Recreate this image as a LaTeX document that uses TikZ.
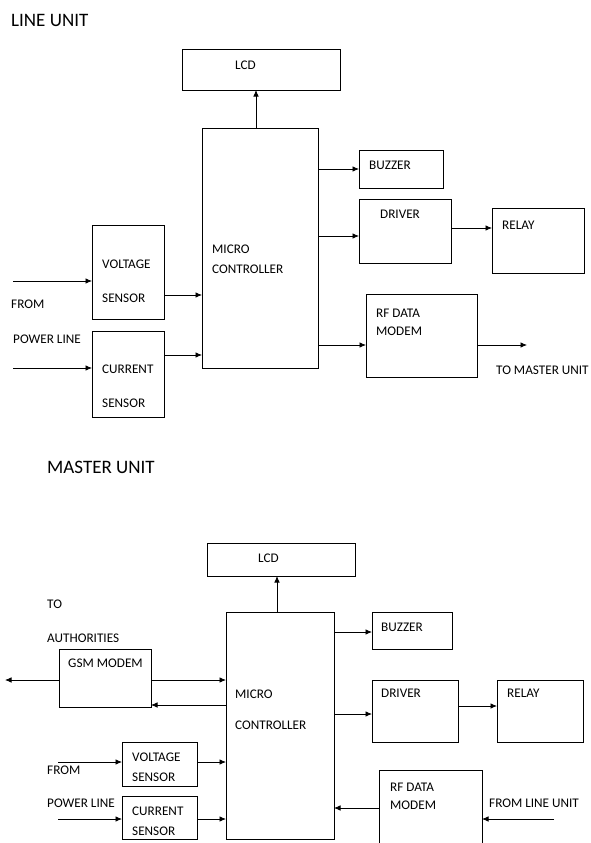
\documentclass[tikz,border=0pt]{standalone}
\usepackage{fontspec}
\setmainfont{Carlito}
\usetikzlibrary{arrows.meta}
\newcommand\mybox[5]{\node[box,minimum width=#4-#2,minimum height=#5-#3] (#1) at (#2,#3) {};}
\begin{document}
\begin{tikzpicture}[x=1pt,y=-1pt,
 box/.style={draw,line width=0.8pt,inner sep=0pt,outer sep=0pt,anchor=north west},
 lbl/.style={anchor=base west,inner sep=0pt,font=\fontsize{13.2}{15}\selectfont},
 ttl/.style={anchor=base west,inner sep=0pt,font=\fontsize{19}{22}\selectfont},
 arr/.style={-{Latex[length=6.5pt,width=5.5pt]},line width=0.8pt}]
\useasboundingbox[fill=white] (0,0) rectangle (590,843);
% ---------- LINE UNIT ----------
\node[ttl] (t1) at (11,27) {LINE UNIT};
\mybox{lcdA}{182}{49}{340}{90}
\mybox{mcA}{202}{128}{318}{368}
\mybox{buzA}{359}{150}{443}{188}
\mybox{drvA}{359}{199}{451}{263}
\mybox{relA}{492}{208}{584}{273}
\mybox{rfA}{366}{294}{477}{377}
\mybox{vsA}{92}{225}{164}{319}
\mybox{csA}{92}{331}{164}{417}
\node[lbl] (l1) at (235,70) {LCD};
\node[lbl] (l2) at (212,253) {MICRO};
\node[lbl] (l3) at (212,273) {CONTROLLER};
\node[lbl] (l4) at (369,169) {BUZZER};
\node[lbl] (l5) at (380,218) {DRIVER};
\node[lbl] (l6) at (502,229) {RELAY};
\node[lbl] (l7) at (376,317) {RF DATA};
\node[lbl] (l8) at (376,335) {MODEM};
\node[lbl] (l9) at (496,374) {TO MASTER UNIT};
\node[lbl] (l10) at (102,268) {VOLTAGE};
\node[lbl] (l11) at (102,302) {SENSOR};
\node[lbl] (l12) at (102,373) {CURRENT};
\node[lbl] (l13) at (102,407) {SENSOR};
\node[lbl] (l14) at (11,308) {FROM};
\node[lbl] (l15) at (13,343) {POWER LINE};
\coordinate (toM) at (527,345);
\coordinate (inV) at (13,281);
\coordinate (inC) at (13,368);
\draw[arr] (256,0 |- mcA.north) -- (256,0 |- lcdA.south);
\draw[arr] (mcA.east |- 0,169) -- (buzA.west |- 0,169);
\draw[arr] (mcA.east |- 0,236) -- (drvA.west |- 0,236);
\draw[arr] (drvA.east |- 0,228) -- (relA.west |- 0,228);
\draw[arr] (mcA.east |- 0,345) -- (rfA.west |- 0,345);
\draw[arr] (rfA.east |- toM) -- (toM);
\draw[arr] (inV) -- (vsA.west |- inV);
\draw[arr] (inC) -- (csA.west |- inC);
\draw[arr] (vsA.east |- 0,295) -- (mcA.west |- 0,295);
\draw[arr] (csA.east |- 0,355) -- (mcA.west |- 0,355);
% ---------- MASTER UNIT ----------
\node[ttl] (t2) at (47,473) {MASTER UNIT};
\mybox{lcdB}{207}{543}{355}{576}
\mybox{mcB}{226}{612}{334}{839}
\mybox{buzB}{372}{612}{452}{649}
\mybox{drvB}{372}{680}{458}{742}
\mybox{relB}{497}{680}{583}{742}
\mybox{rfB}{379}{770}{482}{845}
\mybox{gsmB}{59}{649}{151}{707}
\mybox{vsB}{122}{742}{197}{786}
\mybox{csB}{122}{796}{197}{839}
\node[lbl] (m1) at (258,562) {LCD};
\node[lbl] (m2) at (235,698) {MICRO};
\node[lbl] (m3) at (235,729) {CONTROLLER};
\node[lbl] (m4) at (381,631) {BUZZER};
\node[lbl] (m5) at (381,697) {DRIVER};
\node[lbl] (m6) at (507,697) {RELAY};
\node[lbl] (m7) at (390,791) {RF DATA};
\node[lbl] (m8) at (390,809) {MODEM};
\node[lbl] (m9) at (489,807) {FROM LINE UNIT};
\node[lbl] (m10) at (68,667) {GSM MODEM};
\node[lbl] (m11) at (47,608) {TO};
\node[lbl] (m12) at (47,642) {AUTHORITIES};
\node[lbl] (m13) at (132,761) {VOLTAGE};
\node[lbl] (m14) at (132,781) {SENSOR};
\node[lbl] (m15) at (132,815) {CURRENT};
\node[lbl] (m16) at (132,835) {SENSOR};
\node[lbl] (m17) at (47,774) {FROM};
\node[lbl] (m18) at (47,807) {POWER LINE};
\coordinate (fromL) at (554,819);
\coordinate (toA) at (5,680);
\coordinate (inVB) at (58,762);
\coordinate (inCB) at (58,819);
\draw[arr] (277,0 |- mcB.north) -- (277,0 |- lcdB.south);
\draw[arr] (mcB.east |- 0,632) -- (buzB.west |- 0,632);
\draw[arr] (mcB.east |- 0,714) -- (drvB.west |- 0,714);
\draw[arr] (drvB.east |- 0,706) -- (relB.west |- 0,706);
\draw[arr] (rfB.west |- 0,808) -- (mcB.east |- 0,808);
\draw[arr] (fromL) -- (rfB.east |- fromL);
\draw[arr] (gsmB.west |- toA) -- (toA);
\draw[arr] (gsmB.east |- 0,680) -- (mcB.west |- 0,680);
\draw[arr] (mcB.west |- 0,705) -- (gsmB.east |- 0,705);
\draw[arr] (inVB) -- (vsB.west |- inVB);
\draw[arr] (vsB.east |- inVB) -- (mcB.west |- inVB);
\draw[arr] (inCB) -- (csB.west |- inCB);
\draw[arr] (csB.east |- inCB) -- (mcB.west |- inCB);
\end{tikzpicture}
\end{document}
